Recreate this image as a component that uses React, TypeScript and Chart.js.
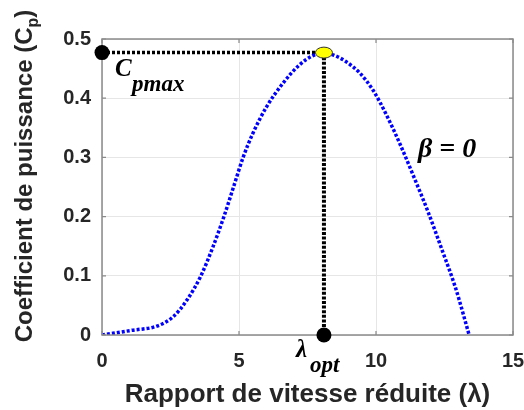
import React, { useEffect, useRef } from "react";
import { Chart, registerables } from "chart.js";

Chart.register(...registerables);

// Data
const LAMBDA = [0, 1.1, 2.0, 2.6, 3.1, 3.6, 4.05, 4.45, 4.8, 5.15, 5.5, 6.0, 6.6, 7.2, 7.7, 8.1, 8.5, 8.9, 9.4, 9.9, 10.4, 10.9, 11.4, 11.9, 12.4, 12.9, 13.4];
const CP = [0, 0.008, 0.015, 0.031, 0.059, 0.099, 0.149, 0.2, 0.25, 0.3, 0.34, 0.385, 0.425, 0.456, 0.472, 0.477, 0.472, 0.462, 0.443, 0.413, 0.37, 0.32, 0.265, 0.208, 0.145, 0.08, 0];
const CP_MAX = 0.477;
const LAMBDA_OPT = 8.1;
const X_TICKS = [0, 5, 10, 15];
const Y_TICKS = [0, 0.1, 0.2, 0.3, 0.4, 0.5];
const BETA_LABEL = "β = 0";
const BETA_POS = { x: 11.53, y: 0.30 };

const X_TITLE = "Rapport de vitesse réduite (λ)";
const Y_TITLE = ["Coefficient de puissance (C", "p", ")"];

const TEXT = "#262626";
const AXIS = "#8a8a8a";
const GRID = "#e6e6e6";
const SANS = "'Liberation Sans', Arial, sans-serif";
const SERIF = "'Liberation Serif', 'Times New Roman', serif";

type Part = { t: string; font: string; dy: number };

function drawParts(ctx: CanvasRenderingContext2D, parts: Part[], x: number, y: number, align: "left" | "center") {
  let total = 0;
  const widths = parts.map((p) => {
    ctx.font = p.font;
    const w = ctx.measureText(p.t).width;
    total += w;
    return w;
  });
  let cx = align === "center" ? x - total / 2 : x;
  parts.forEach((p, i) => {
    ctx.font = p.font;
    ctx.fillText(p.t, cx, y + p.dy);
    cx += widths[i];
  });
}

const decorPlugin = {
  id: "decor",
  afterDatasetsDraw(chart: any) {
    const ctx: CanvasRenderingContext2D = chart.ctx;
    const xs = chart.scales.x;
    const ys = chart.scales.y;
    const ca = chart.chartArea;
    ctx.save();
    // axes box
    ctx.strokeStyle = AXIS;
    ctx.lineWidth = 1.5;
    ctx.strokeRect(ca.left, ca.top, ca.right - ca.left, ca.bottom - ca.top);
    // inner tick marks
    ctx.lineWidth = 1.2;
    ctx.beginPath();
    X_TICKS.forEach((v) => {
      const px = xs.getPixelForValue(v);
      ctx.moveTo(px, ca.bottom);
      ctx.lineTo(px, ca.bottom - 4);
      ctx.moveTo(px, ca.top);
      ctx.lineTo(px, ca.top + 4);
    });
    Y_TICKS.forEach((v) => {
      const py = ys.getPixelForValue(v);
      ctx.moveTo(ca.left, py);
      ctx.lineTo(ca.left + 4, py);
      ctx.moveTo(ca.right, py);
      ctx.lineTo(ca.right - 4, py);
    });
    ctx.stroke();
    ctx.restore();

    // markers (drawn on top)
    ctx.save();
    ctx.fillStyle = "#000";
    [[0, CP_MAX], [LAMBDA_OPT, 0]].forEach(([vx, vy]) => {
      ctx.beginPath();
      ctx.arc(xs.getPixelForValue(vx), ys.getPixelForValue(vy), 7.5, 0, Math.PI * 2);
      ctx.fill();
    });
    // yellow ellipse at peak
    ctx.beginPath();
    ctx.ellipse(xs.getPixelForValue(LAMBDA_OPT), ys.getPixelForValue(CP_MAX), 8.5, 5.5, 0, 0, Math.PI * 2);
    ctx.fillStyle = "#ffff00";
    ctx.fill();
    ctx.strokeStyle = "#333";
    ctx.lineWidth = 1;
    ctx.stroke();
    ctx.restore();

    // annotation texts
    ctx.save();
    ctx.fillStyle = "#000";
    ctx.textBaseline = "alphabetic";
    ctx.textAlign = "left";
    const cX = xs.getPixelForValue(0) + 13;
    const cY = ys.getPixelForValue(CP_MAX) + 23;
    ctx.font = `italic bold 25px ${SERIF}`;
    ctx.fillText("C", cX, cY);
    ctx.font = `italic bold 23px ${SERIF}`;
    ctx.fillText("pmax", cX + 17, cY + 15);

    const lX = xs.getPixelForValue(LAMBDA_OPT) - 28;
    const lY = ys.getPixelForValue(0) + 22;
    ctx.font = `italic bold 25px ${SERIF}`;
    ctx.fillText("λ", lX, lY);
    ctx.font = `italic bold 23px ${SERIF}`;
    ctx.fillText("opt", lX + 14, lY + 15);

    ctx.font = `italic bold 28px ${SERIF}`;
    ctx.fillText(BETA_LABEL, xs.getPixelForValue(BETA_POS.x), ys.getPixelForValue(BETA_POS.y));
    ctx.restore();

    // axis titles
    ctx.save();
    ctx.fillStyle = TEXT;
    ctx.textBaseline = "alphabetic";
    ctx.textAlign = "left";
    drawParts(ctx, [{ t: X_TITLE, font: `bold 26px ${SANS}`, dy: 0 }], (ca.left + ca.right) / 2, 402, "center");
    ctx.translate(32, (ca.top + ca.bottom) / 2 - 11);
    ctx.rotate(-Math.PI / 2);
    drawParts(
      ctx,
      [
        { t: Y_TITLE[0], font: `bold 24px ${SANS}`, dy: 0 },
        { t: Y_TITLE[1], font: `bold 16px ${SANS}`, dy: 6 },
        { t: Y_TITLE[2], font: `bold 24px ${SANS}`, dy: 0 },
      ],
      0,
      0,
      "center"
    );
    ctx.restore();
  },
};

export default function App() {
  const ref = useRef<HTMLCanvasElement | null>(null);
  useEffect(() => {
    document.body.style.margin = "0";
    if (!ref.current) return;
    const curve = LAMBDA.map((x, i) => ({ x, y: CP[i] }));
    const chart = new Chart(ref.current, {
      type: "scatter",
      data: {
        datasets: [
          {
            data: curve,
            showLine: true,
            borderColor: "#0000ff",
            borderWidth: 3.5,
            borderDash: [3, 2],
            cubicInterpolationMode: "monotone",
            pointRadius: 0,
            order: 1,
          } as any,
          {
            data: [
              { x: 0, y: CP_MAX },
              { x: LAMBDA_OPT, y: CP_MAX },
            ],
            showLine: true,
            borderColor: "#000",
            borderWidth: 3.5,
            borderDash: [3, 2],
            pointRadius: 0,
            order: 2,
          },
          {
            data: [
              { x: LAMBDA_OPT, y: CP_MAX },
              { x: LAMBDA_OPT, y: 0 },
            ],
            showLine: true,
            borderColor: "#000",
            borderWidth: 4,
            borderDash: [3, 1.6],
            pointRadius: 0,
            order: 2,
          },
        ],
      },
      options: {
        animation: false,
        responsive: false,
        maintainAspectRatio: false,
        layout: { padding: { left: 0, top: 39, right: 11, bottom: 0 } },
        plugins: { legend: { display: false }, tooltip: { enabled: false } },
        scales: {
          x: {
            type: "linear",
            min: 0,
            max: 15,
            afterBuildTicks: (s: any) => {
              s.ticks = X_TICKS.map((v) => ({ value: v }));
            },
            afterFit: (s: any) => {
              s.height = 75;
              s.paddingLeft = 0;
              s.paddingRight = 0;
            },
            ticks: {
              color: TEXT,
              font: { family: SANS, size: 20, weight: "bold" },
              padding: 14,
              maxRotation: 0,
            },
            grid: { color: GRID, lineWidth: 1, drawTicks: false },
            border: { display: false },
          },
          y: {
            type: "linear",
            min: 0,
            max: 0.5,
            afterBuildTicks: (s: any) => {
              s.ticks = Y_TICKS.map((v) => ({ value: v }));
            },
            afterFit: (s: any) => {
              s.width = 102;
              s.paddingTop = 0;
              s.paddingBottom = 0;
            },
            ticks: {
              color: TEXT,
              font: { family: SANS, size: 20, weight: "bold" },
              padding: 11,
              callback: (v: any) => (Number(v) === 0 ? "0" : Number(v).toFixed(1)),
            },
            grid: { color: GRID, lineWidth: 1, drawTicks: false },
            border: { display: false },
          },
        },
      },
      plugins: [decorPlugin],
    });
    return () => chart.destroy();
  }, []);
  return (
    <div style={{ position: "absolute", left: 0, top: 0, width: 524, height: 410, background: "#fff" }}>
      <canvas ref={ref} width={524} height={410} style={{ width: 524, height: 410, display: "block" }} />
    </div>
  );
}
